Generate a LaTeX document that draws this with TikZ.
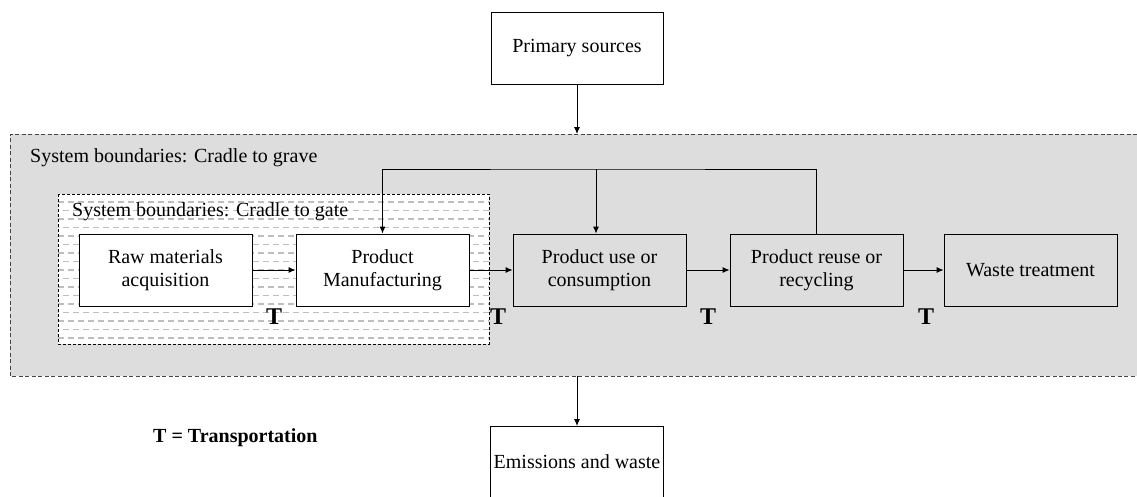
\documentclass[tikz,border=0pt]{standalone}
\usepackage{fontspec}
\setmainfont{Liberation Serif}
\usepackage{tikz}
\usetikzlibrary{arrows.meta, positioning, calc}
\definecolor{boundary}{RGB}{221,221,221}
\definecolor{hatch}{RGB}{190,190,190}
\definecolor{bndline}{RGB}{70,70,70}
\tikzstyle{stage} = [rectangle, minimum width=173pt, minimum height=72pt, inner sep=0pt, text centered, align=center, draw=black, line width=0.9pt, font=\rmfamily\fontsize{20}{23}\selectfont]
\tikzstyle{whitestage} = [stage, fill=white]
\tikzstyle{bndtext} = [anchor=base west, inner sep=0pt, font=\rmfamily\fontsize{20}{23}\selectfont]
\tikzstyle{tmark} = [anchor=base, inner sep=0pt, font=\rmfamily\fontsize{24}{24}\selectfont\bfseries]
\tikzstyle{arrow} = [line width=0.9pt,-{Latex[length=7pt,width=6pt]}]

\begin{document}
\begin{tikzpicture}[x=1pt, y=-1pt, node distance=217pt]
\useasboundingbox (0,0) rectangle (1137,496);

% Cradle to grave
\fill[boundary] (10,134) rectangle (1137,376);
\draw[bndline, line width=0.8pt, dash pattern=on 4pt off 2.5pt] (1137,134) -- (10,134) -- (10,376) -- (1137,376);
\node (grave) [bndtext] at (30,162) {System boundaries: Cradle to grave};

% Cradle to gate
\fill[white] (58,194) rectangle (489,344);
\begin{scope}
\clip (58,194) rectangle (489,344);
\foreach \y in {202,219,...,340}
  \draw[hatch, line width=1.2pt, dash pattern=on 6pt off 4pt] (58,\y) -- (489,\y);
\foreach \y in {210.5,227.5,...,340}
  \draw[hatch, line width=1.2pt, dash pattern=on 6pt off 4pt, dash phase=5pt] (58,\y) -- (489,\y);
\end{scope}
\draw[black, line width=0.8pt, dash pattern=on 3pt off 2pt] (58,194) rectangle (489,344);
\node (gate) [bndtext] at (72,216) {System boundaries: Cradle to gate};

% Life cycle stages
\node (raw) [whitestage] at (165.5,270) {Raw materials\\acquisition};
\node (pm) [whitestage, right of=raw] {Product\\Manufacturing};
\node (use) [stage, right of=pm] {Product use or\\consumption};
\node (reuse) [stage, right of=use] {Product reuse or\\recycling};
\node (waste) [stage, right of=reuse, xshift=-3pt] {Waste treatment};

% Inputs and outputs
\node (primary) [whitestage, minimum width=172pt] at (577,48) {Primary sources};
\node (emis) [stage, draw=none, minimum width=172pt, minimum height=70pt, anchor=north] at (577,426) {Emissions and waste};
\draw[line width=0.9pt] (emis.south west) |- (emis.north east) -- (emis.south east);

% Transportation
\node (t1) [tmark] at (274,324) {T};
\node (t2) [tmark] at (498,324) {T};
\node (t3) [tmark] at (708,324) {T};
\node (t4) [tmark] at (926,324) {T};
\node (legend) [anchor=base west, inner sep=0pt, font=\rmfamily\fontsize{20}{23}\selectfont\bfseries] at (153,442) {T = Transportation};

% Arrows
\coordinate (gravetop) at (577,134);
\coordinate (gravebot) at (577,376);
\coordinate (loop) at (596,169);
\draw [arrow] (primary) -- (gravetop);
\draw [arrow] (gravebot) -- (emis.north);
\draw [arrow] (raw) -- (pm);
\draw [arrow] (pm) -- (use);
\draw [arrow] (use) -- (reuse);
\draw [arrow] (reuse) -- (waste);
\draw [arrow] (reuse.north) |- (loop) -| (pm.north);
\draw [arrow] (loop) -- (loop |- use.north);

\end{tikzpicture}
\end{document}
